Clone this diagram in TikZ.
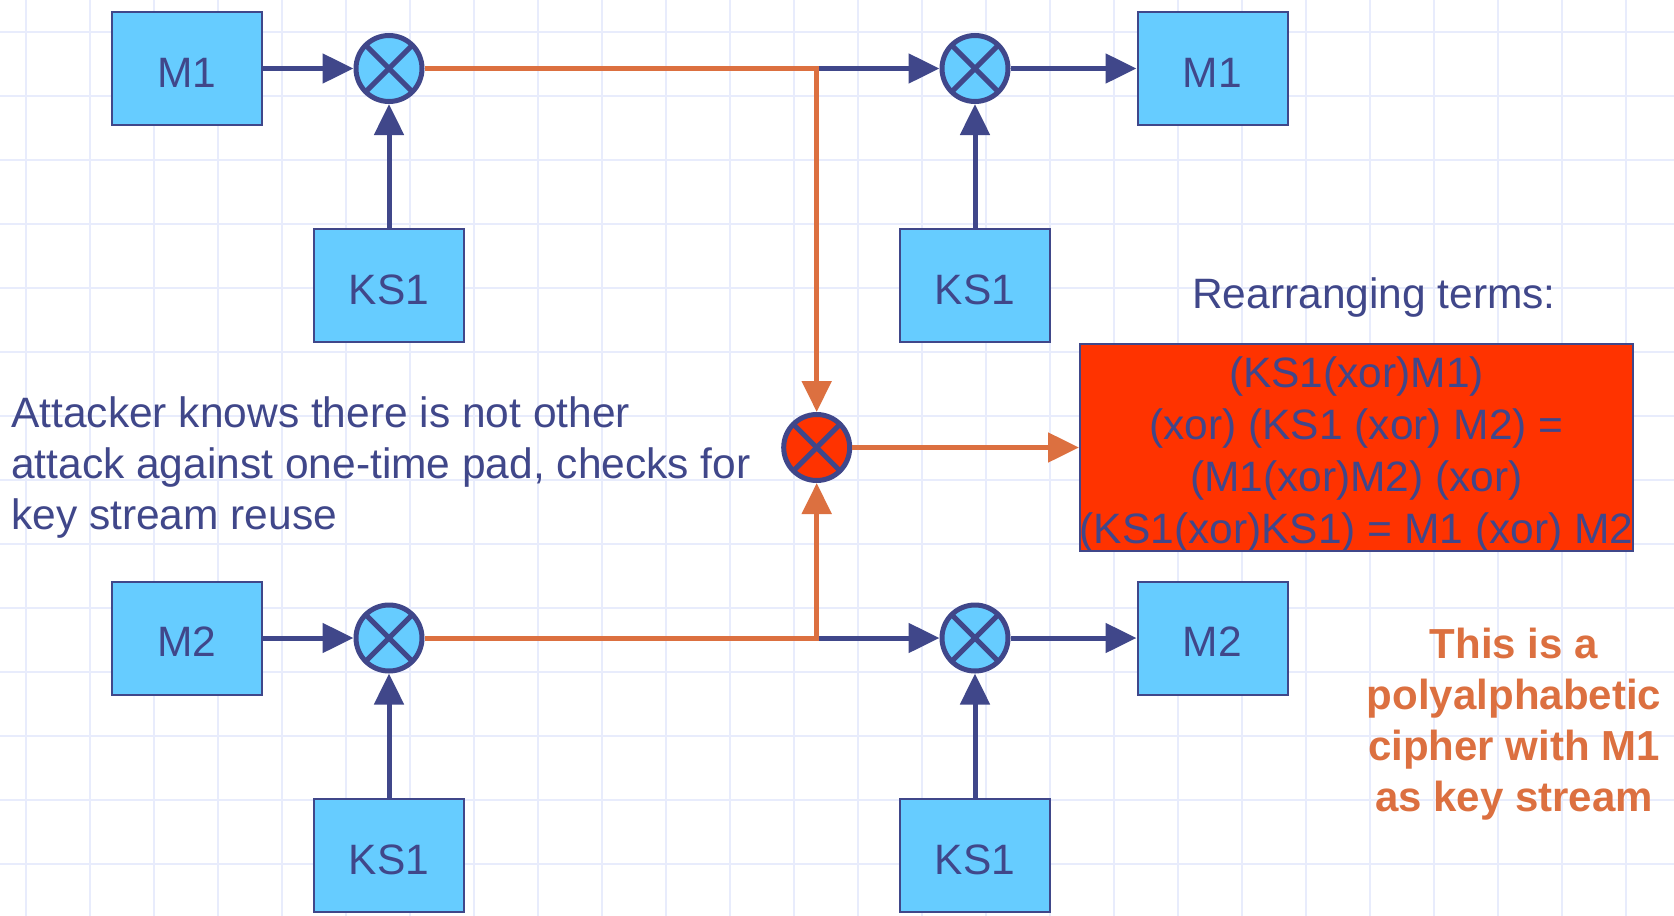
\documentclass[tikz,border=0pt]{standalone}
\usepackage{fontspec}
\setmainfont{Liberation Sans}
\usetikzlibrary{arrows.meta}
\definecolor{gridc}{RGB}{232,236,252}
\definecolor{dblue}{RGB}{64,71,138}
\definecolor{lblue}{RGB}{102,204,255}
\definecolor{orng}{RGB}{220,112,64}
\definecolor{rred}{RGB}{255,51,0}
\tikzset{
  box/.style={draw=dblue, line width=2pt, fill=lblue, minimum width=150pt, minimum height=113pt, inner sep=0pt, text=dblue, font=\fontsize{42.5}{50}\selectfont, text height=37pt, text depth=0pt},
  xorc/.style={circle, draw=dblue, line width=5pt, fill=lblue, minimum size=66pt, inner sep=0pt},
  tipx/.style={-{Triangle[length=31pt,width=29pt]}},
  bline/.style={draw=dblue, line width=5pt, tipx},
  oline/.style={draw=orng, line width=5pt},
  txt/.style={text=dblue, inner sep=0pt, font=\fontsize{42.5}{50.8}\selectfont},
}
\begin{document}
\begin{tikzpicture}[x=1pt,y=-1pt]
\useasboundingbox (0,0) rectangle (1674,916);
\fill[white] (0,0) rectangle (1674,916);
% grid
\foreach \k in {0,...,25} \draw[gridc, line width=1.6pt] ({26+64*\k},0) -- ({26+64*\k},916);
\foreach \k in {0,...,13} \draw[gridc, line width=1.6pt] (0,{31.7+64*\k}) -- (1674,{31.7+64*\k});

% boxes
\node[box] (M1a) at (187,68.5) {M1};
\node[box] (KS1a) at (389,285.5) {KS1};
\node[box] (M1b) at (1212.5,68.5) {M1};
\node[box] (KS1b) at (975,285.5) {KS1};
\node[box] (M2a) at (187,638) {M2};
\node[box] (KS1c) at (389,855.5) {KS1};
\node[box] (M2b) at (1212.5,638) {M2};
\node[box] (KS1d) at (975,855.5) {KS1};

% xor circles
\node[xorc] (xA) at (389,68.5) {};
\node[xorc] (xB) at (975,68.5) {};
\node[xorc] (xD) at (389,638) {};
\node[xorc] (xE) at (975,638) {};
\node[xorc, fill=rred] (xC) at (816.7,447.5) {};
\foreach \n in {xA,xB,xC,xD,xE} {
  \draw[dblue, line width=5pt, line cap=round] ([shift={(-23.3,-23.3)}]\n.center) -- ([shift={(23.3,23.3)}]\n.center);
  \draw[dblue, line width=5pt, line cap=round] ([shift={(-23.3,23.3)}]\n.center) -- ([shift={(23.3,-23.3)}]\n.center);
}

\coordinate (jA) at (816.7,68.5);
\coordinate (jB) at (816.7,638);

% result box
\node[draw=dblue, line width=2pt, fill=rred, minimum width=553pt, minimum height=207pt, inner sep=0pt] (rbox) at (1356.5,447.5) {};
\node[txt, align=center, font=\fontsize{42.5}{51.8}\selectfont] (rtext) at (1356.5,454.5) {(KS1(xor)M1)\\(xor) (KS1 (xor) M2) =\\(M1(xor)M2) (xor)\\(KS1(xor)KS1) = M1 (xor) M2};

% blue connectors
\draw[bline] (M1a.east) -- (xA.west);
\draw[bline] (KS1a.north) -- (xA.south);
\draw[bline] (jA) -- (xB.west);
\draw[bline] (KS1b.north) -- (xB.south);
\draw[bline] (xB.east) -- (M1b.west);
\draw[bline] (M2a.east) -- (xD.west);
\draw[bline] (KS1c.north) -- (xD.south);
\draw[bline] (jB) -- (xE.west);
\draw[bline] (KS1d.north) -- (xE.south);
\draw[bline] (xE.east) -- (M2b.west);

% orange connectors
\draw[oline, tipx] (xA.east) -- (jA) -- (xC.north);
\draw[oline, tipx] (xD.east) -- (jB) -- (xC.south);
\draw[oline, tipx] (xC.east) -- (rbox.west);

% texts
\node[txt, align=left, anchor=west] (att) at (11,467.3) {Attacker knows there is not other\\attack against one-time pad, checks for\\key stream reuse};
\node[txt] (rear) at (1374,297.8) {Rearranging terms:};
\node[txt, text=orng, align=center, font=\bfseries\fontsize{42}{51}\selectfont] (note) at (1514,723.7) {This is a\\polyalphabetic\\cipher with M1\\as key stream};
\end{tikzpicture}
\end{document}
